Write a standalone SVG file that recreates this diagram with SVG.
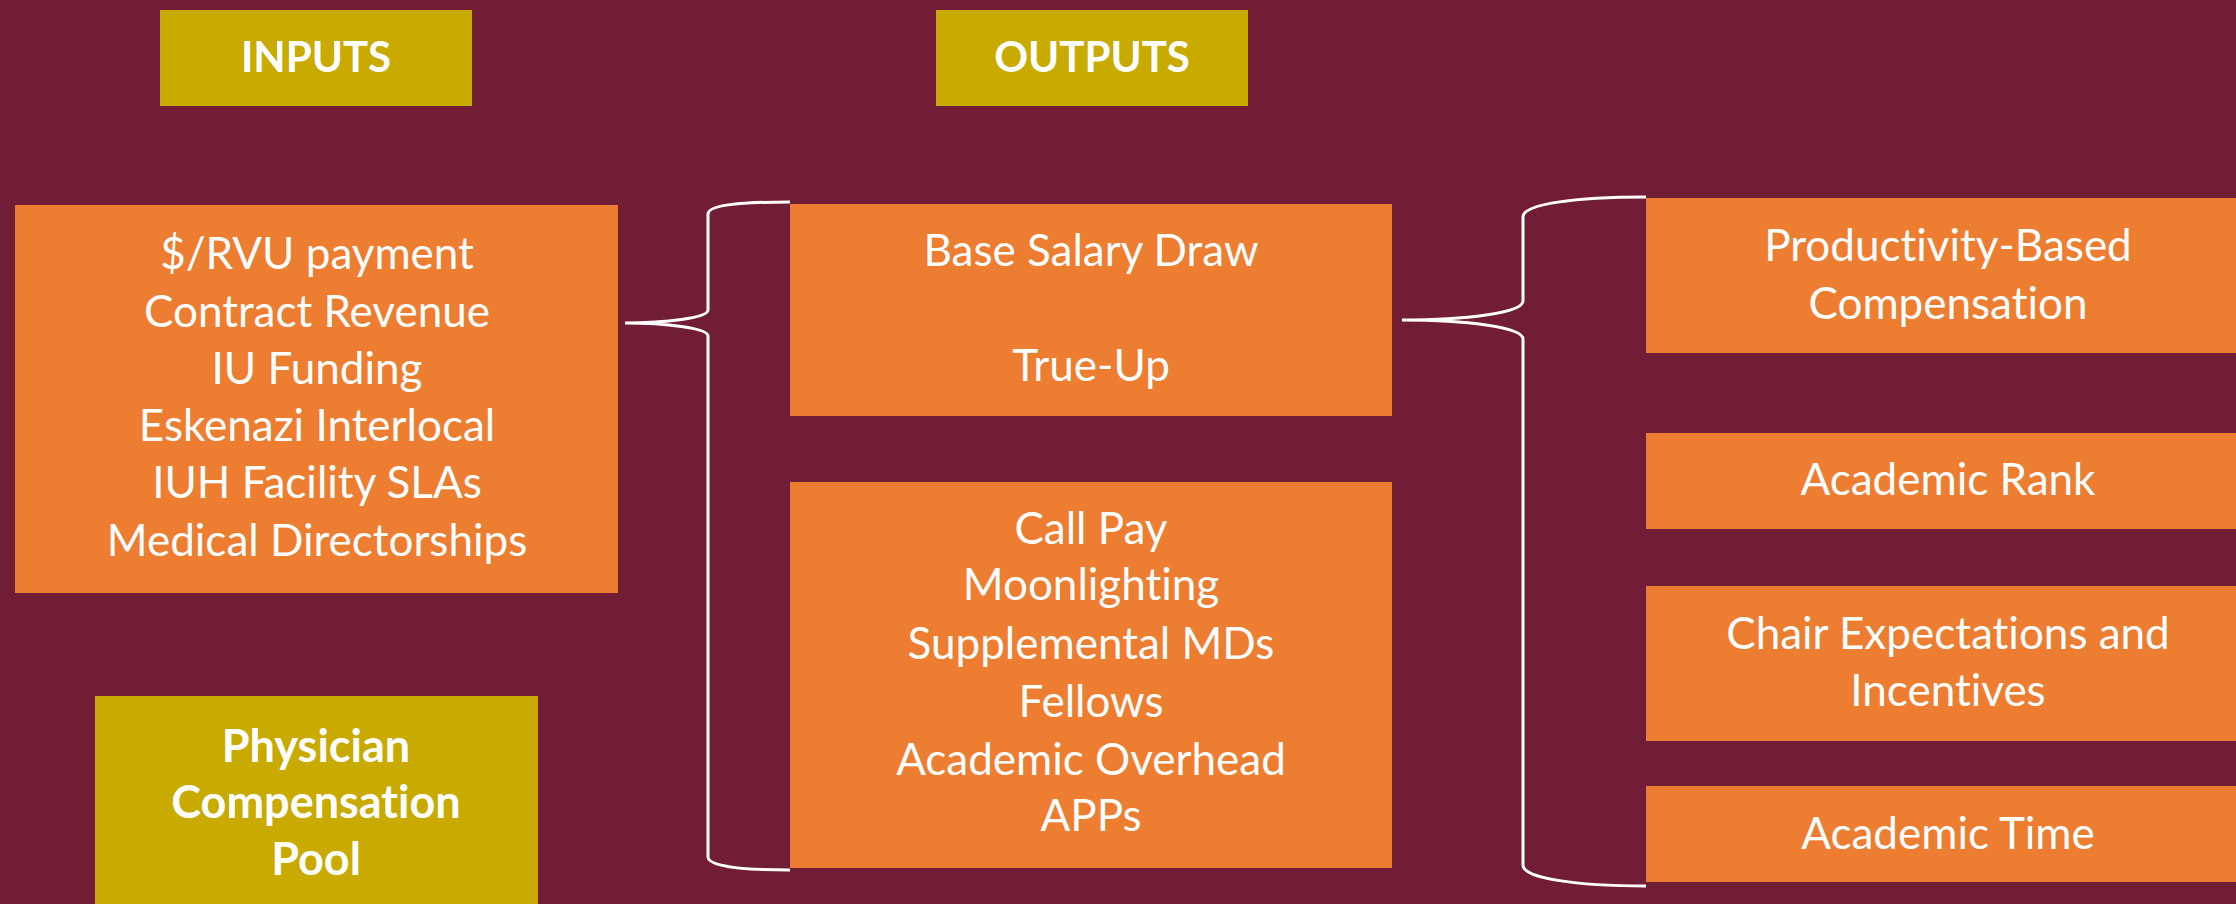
<svg xmlns="http://www.w3.org/2000/svg" width="2236" height="904" viewBox="0 0 2236 904">
  <style>
    .bg { fill: #711D35; }
    .box { fill: #ED7D31; }
    .head { fill: #C8AA00; }
    text { font-family: Lato, "Open Sans", sans-serif; fill: #FFFFFF; text-anchor: middle; font-variant-ligatures: none; }
    .t { font-size: 44px; }
    .tb { font-size: 42px; font-weight: bold; }
    .tp { font-size: 45px; font-weight: bold; }
    .brace { fill: none; stroke: #FFFFFF; stroke-width: 3; }
  </style>

  <rect class="bg" x="0" y="0" width="2236" height="904"/>

  <g id="inputs-header">
    <rect class="head" x="160" y="10" width="312" height="96"/>
    <text class="tb" x="316" y="72">INPUTS</text>
  </g>

  <g id="outputs-header">
    <rect class="head" x="936" y="10" width="312" height="96"/>
    <text class="tb" x="1092" y="72">OUTPUTS</text>
  </g>

  <g id="revenue-sources">
    <rect class="box" x="15" y="205" width="603" height="388"/>
    <text class="t" x="317" y="269">$/RVU payment</text>
    <text class="t" x="317" y="327">Contract Revenue</text>
    <text class="t" x="317" y="384">IU Funding</text>
    <text class="t" x="317" y="441">Eskenazi Interlocal</text>
    <text class="t" x="317" y="498">IUH Facility SLAs</text>
    <text class="t" x="317" y="556">Medical Directorships</text>
  </g>

  <g id="compensation-pool">
    <rect class="head" x="95" y="696" width="443" height="220"/>
    <text class="tp" x="316" y="762">Physician</text>
    <text class="tp" x="316" y="818">Compensation</text>
    <text class="tp" x="316" y="875">Pool</text>
  </g>

  <g id="salary">
    <rect class="box" x="790" y="204" width="602" height="212"/>
    <text class="t" x="1091" y="266">Base Salary Draw</text>
    <text class="t" x="1091" y="381">True-Up</text>
  </g>

  <g id="expenses">
    <rect class="box" x="790" y="482" width="602" height="386"/>
    <text class="t" x="1091" y="544">Call Pay</text>
    <text class="t" x="1091" y="600">Moonlighting</text>
    <text class="t" x="1091" y="659">Supplemental MDs</text>
    <text class="t" x="1091" y="717">Fellows</text>
    <text class="t" x="1091" y="775">Academic Overhead</text>
    <text class="t" x="1091" y="831">APPs</text>
  </g>

  <g id="productivity">
    <rect class="box" x="1646" y="198" width="604" height="155"/>
    <text class="t" x="1948" y="261">Productivity-Based</text>
    <text class="t" x="1948" y="319">Compensation</text>
  </g>

  <g id="academic-rank">
    <rect class="box" x="1646" y="433" width="604" height="96"/>
    <text class="t" x="1948" y="495">Academic Rank</text>
  </g>

  <g id="chair-expectations">
    <rect class="box" x="1646" y="586" width="604" height="155"/>
    <text class="t" x="1948" y="649">Chair Expectations and</text>
    <text class="t" x="1948" y="706">Incentives</text>
  </g>

  <g id="academic-time">
    <rect class="box" x="1646" y="786" width="604" height="96"/>
    <text class="t" x="1948" y="849">Academic Time</text>
  </g>

  <g id="connectors">
    <path class="brace" d="M790,202 C740,202 708,205 708,214 L708,310 C708,318 665,323 625,323 C665,323 708,328 708,336 L708,857 C708,866 740,870 790,870"/>
    <path class="brace" d="M1646,197 C1575,197 1523,204 1523,217 L1523,301 C1523,313 1465,320 1402,320 C1465,320 1523,327 1523,339 L1523,865 C1523,878 1575,886 1646,886"/>
  </g>
</svg>
